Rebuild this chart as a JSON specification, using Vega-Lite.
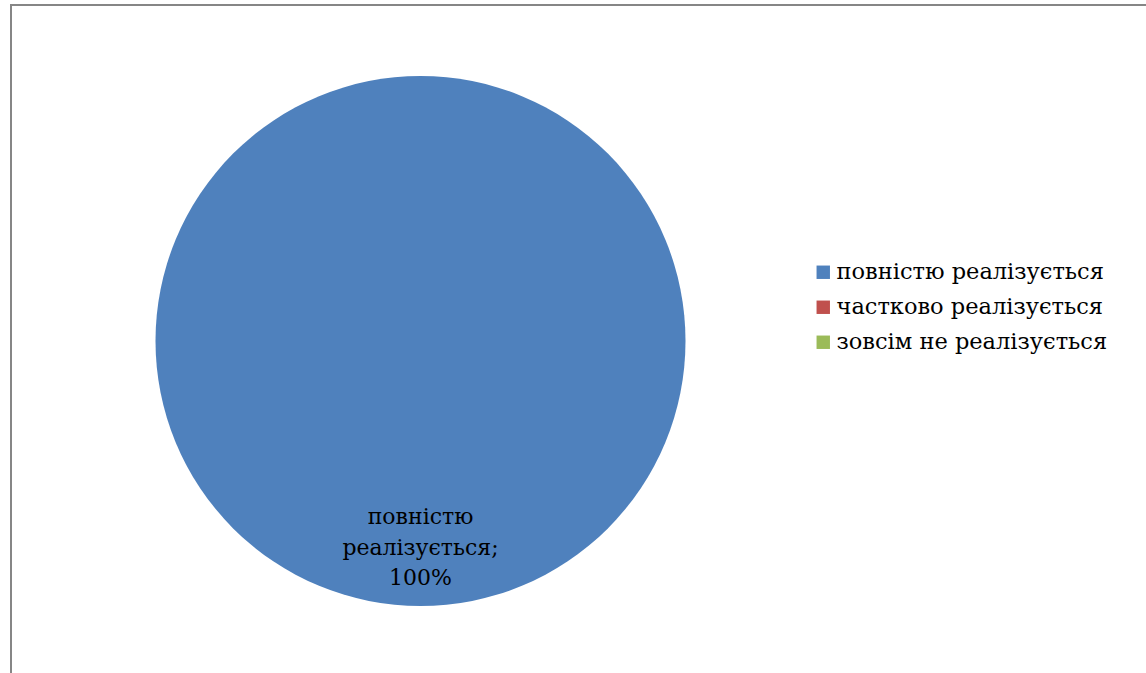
{
  "$schema": "https://vega.github.io/schema/vega-lite/v6.json",
  "width": 1140,
  "height": 700,
  "autosize": {"type": "none"},
  "padding": {"left": 11, "top": 5, "right": 0, "bottom": 0},
  "background": "white",
  "view": {"stroke": "#868686", "strokeWidth": 2, "fill": "white"},
  "config": {
    "font": "DejaVu Serif"
  },
  "data": {
    "values": [
      {"category": "повністю реалізується", "value": 100, "label": "повністю\nреалізується;\n100%"},
      {"category": "частково реалізується", "value": 0, "label": ""},
      {"category": "зовсім не реалізується", "value": 0, "label": ""}
    ]
  },
  "encoding": {
    "theta": {"field": "value", "type": "quantitative", "stack": true},
    "color": {
      "field": "category",
      "type": "nominal",
      "sort": null,
      "scale": {
        "domain": ["повністю реалізується", "частково реалізується", "зовсім не реалізується"],
        "range": ["#4F81BD", "#C0504D", "#9BBB59"]
      },
      "legend": {
        "title": null,
        "orient": "none",
        "legendX": 801,
        "legendY": 256,
        "symbolType": "square",
        "symbolSize": 180,
        "symbolStrokeWidth": 0,
        "labelFont": "DejaVu Serif",
        "labelFontSize": 22.5,
        "labelColor": "#000000",
        "labelOffset": 2,
        "rowPadding": 12,
        "labelLimit": 400
      }
    }
  },
  "layer": [
    {
      "mark": {"type": "arc", "outerRadius": 265, "x": 409.5, "y": 336, "stroke": null}
    },
    {
      "transform": [{"filter": "datum.value > 0"}],
      "mark": {
        "type": "text",
        "radius": 176,
        "x": 409.5,
        "y": 336,
        "fontSize": 22,
        "font": "DejaVu Serif",
        "lineBreak": "\n",
        "lineHeight": 30.5,
        "align": "center",
        "baseline": "middle",
        "color": "#000000"
      },
      "encoding": {
        "text": {"field": "label"},
        "color": {"value": "#000000"}
      }
    }
  ]
}
